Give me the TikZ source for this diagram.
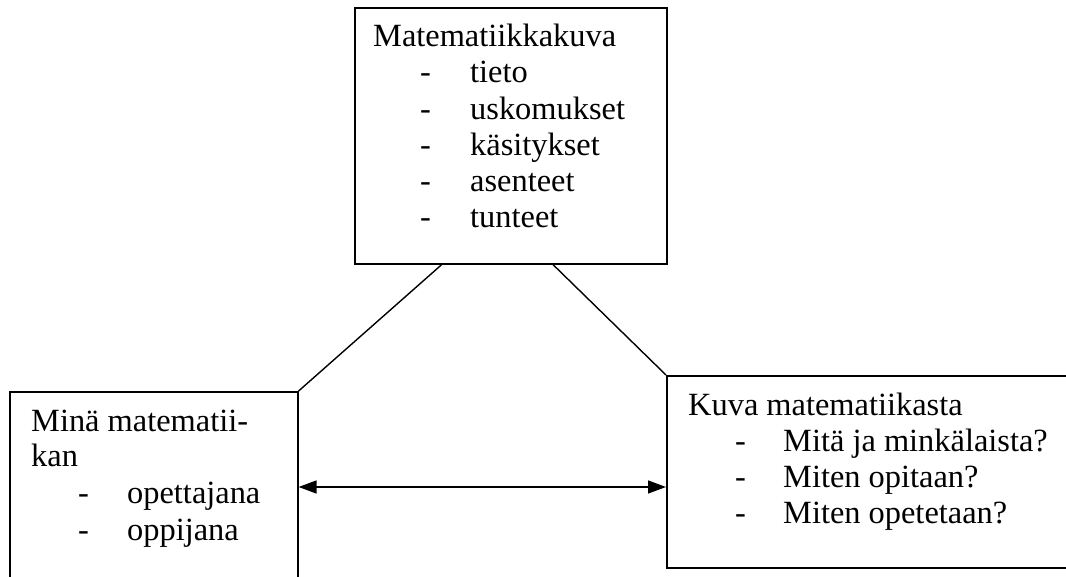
\documentclass[tikz,border=0pt]{standalone}
\usepackage{fontspec}
\setmainfont{Liberation Serif}
\usetikzlibrary{arrows.meta}
\begin{document}
\begin{tikzpicture}[x=1pt,y=-1pt,
  box/.style={draw,line width=1.6pt,rectangle,inner sep=0pt,anchor=north west},
  txt/.style={anchor=base west,inner sep=0pt,font=\fontsize{32.4}{36.7}\selectfont},
  link/.style={line width=1.4pt},
  arr/.style={line width=1.4pt,{Triangle[length=18pt,width=13pt]}-{Triangle[length=18pt,width=13pt]}}]
\useasboundingbox (0,0) rectangle (1066,577);
\clip (0,0) rectangle (1066,577);
% boxes
\node[box,minimum width=312pt,minimum height=256pt] (top) at (354,7) {};
\node[box,minimum width=288pt,minimum height=240pt] (mina) at (9,391) {};
\node[box,minimum width=460pt,minimum height=192pt] (kuva) at (666,375) {};
% texts top
\node[txt] (t0) at (373,46.7) {Matematiikkakuva};
\foreach \i/\w in {1/tieto,2/uskomukset,3/käsitykset,4/asenteet,5/tunteet}{
  \node[txt] (td\i) at (420,46.7+36.2*\i) {-};
  \node[txt] (tw\i) at (470,46.7+36.2*\i) {\w};
}
% texts left
\node[txt] (m0) at (31,431.7) {Minä matematii-};
\node[txt] (m1) at (31,466.7) {kan};
\node[txt] (md1) at (78,503.5) {-};
\node[txt] (mw1) at (127,503.5) {opettajana};
\node[txt] (md2) at (78,540) {-};
\node[txt] (mw2) at (127,540) {oppijana};
% texts right
\node[txt] (k0) at (688,415) {Kuva matematiikasta};
\foreach \i/\w in {1/Mitä ja minkälaista?,2/Miten opitaan?,3/Miten opetetaan?}{
  \node[txt] (kd\i) at (735,415+36.2*\i) {-};
  \node[txt] (kw\i) at (783,415+36.2*\i) {\w};
}
% connectors
\coordinate (tl) at ([xshift=87.7pt]top.south west);
\coordinate (tr) at ([xshift=199pt]top.south west);
\draw[link] (tl) -- (mina.north east);
\draw[link] (tr) -- (kuva.north west);
\coordinate (ay) at (0,487);
\draw[arr] (mina.east |- ay) -- (kuva.west |- ay);
\end{tikzpicture}
\end{document}
